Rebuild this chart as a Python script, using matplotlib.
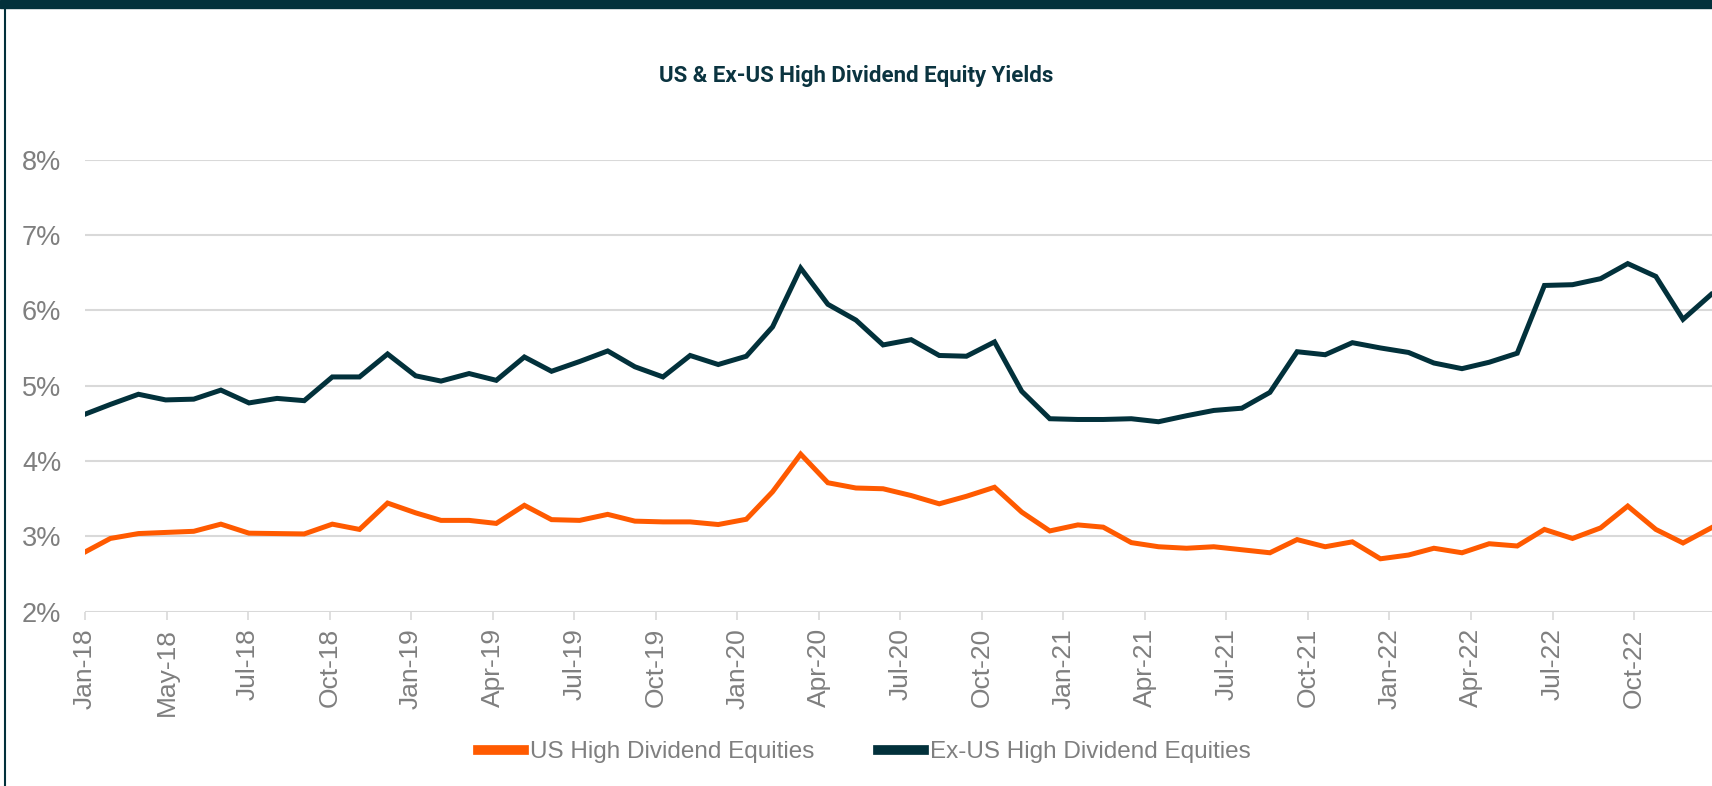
import numpy as np
import pandas as pd
import matplotlib
matplotlib.use("Agg")
import matplotlib.pyplot as plt
import matplotlib.dates as mdates
from matplotlib.lines import Line2D
from matplotlib.patches import Rectangle

# month-end yields (%), Jan-18 .. Dec-22
us_yield = [2.79, 2.97, 3.035, 3.05, 3.065, 3.16, 3.04, 3.035, 3.03, 3.16,
            3.09, 3.44, 3.31, 3.21, 3.21, 3.17, 3.41, 3.22, 3.21, 3.29,
            3.20, 3.19, 3.19, 3.155, 3.225, 3.59, 4.09, 3.71, 3.64, 3.63,
            3.54, 3.43, 3.53, 3.65, 3.32, 3.07, 3.15, 3.12, 2.915, 2.86,
            2.84, 2.86, 2.82, 2.78, 2.955, 2.86, 2.925, 2.70, 2.75, 2.84,
            2.78, 2.90, 2.87, 3.09, 2.97, 3.11, 3.40, 3.09, 2.91, 3.11]
exus_yield = [4.62, 4.75, 4.885, 4.81, 4.82, 4.94, 4.77, 4.83, 4.80, 5.115,
              5.115, 5.42, 5.13, 5.06, 5.16, 5.07, 5.38, 5.19, 5.32, 5.46,
              5.25, 5.115, 5.40, 5.28, 5.39, 5.78, 6.56, 6.08, 5.87, 5.54,
              5.61, 5.40, 5.39, 5.58, 4.925, 4.56, 4.55, 4.55, 4.56, 4.52,
              4.60, 4.67, 4.70, 4.91, 5.45, 5.41, 5.57, 5.50, 5.44, 5.30,
              5.225, 5.31, 5.43, 6.33, 6.34, 6.42, 6.62, 6.45, 5.88, 6.21]
dates = pd.date_range("2018-01-31", periods=len(us_yield), freq="ME")
tick_dates = pd.date_range("2018-01-31", periods=20, freq="90D")
y_ticks = [2, 3, 4, 5, 6, 7, 8]

series_names = ["US High Dividend Equities", "Ex-US High Dividend Equities"]
title = "US & Ex-US High Dividend Equity Yields"

ORANGE = "#ff5a00"
DARK = "#02313b"
GREY = "#7f7f7f"

plt.rcParams["font.family"] = ["Liberation Sans", "DejaVu Sans"]

fig = plt.figure(figsize=(17.12, 7.86), dpi=100)
ax = fig.add_axes([85 / 1712, 174.5 / 786, 1 - 85 / 1712, 451.8 / 786])

ax.plot(dates, us_yield, color=ORANGE, lw=3.6, solid_joinstyle="miter",
        label=series_names[0], zorder=3)
ax.plot(dates, exus_yield, color=DARK, lw=3.6, solid_joinstyle="miter",
        label=series_names[1], zorder=3)

ax.set_ylim(2, 8)
ax.set_yticks(y_ticks)
ax.set_yticklabels([f"{v}%" for v in y_ticks])
ax.set_xlim(dates[0], pd.Timestamp("2023-01-01"))
ax.set_xticks(tick_dates)
ax.xaxis.set_major_formatter(mdates.DateFormatter("%b-%y"))

ax.grid(axis="y", color="#d9d9d9", lw=1.5, zorder=0)
for s in ax.spines.values():
    s.set_visible(False)
ax.tick_params(axis="y", length=0, pad=17, labelsize=19.5, labelcolor=GREY)
ax.tick_params(axis="x", length=6, width=1.2, color="#d9d9d9", pad=6,
               labelsize=19, labelcolor=GREY, labelrotation=90)

# frame pieces
fig.add_artist(Rectangle((0, 1 - 8 / 786), 1, 8 / 786, transform=fig.transFigure,
                         color=DARK, zorder=10))
fig.add_artist(Line2D([4.5 / 1712, 4.5 / 1712], [0, 1], transform=fig.transFigure,
                      color=DARK, lw=1.5))

fig.text(0.5, 1 - 76 / 786, title, ha="center", va="center", fontsize=16,
         fontweight="bold", color="#0b3440",
         family=["Roboto", "DejaVu Sans"])

leg = fig.legend(loc="center", bbox_to_anchor=(0.505, 1 - 752 / 786), ncol=2,
                 frameon=False, handlelength=1.9, handletextpad=0.25,
                 columnspacing=2.6,
                 prop={"family": ["Liberation Sans"], "size": 17.5})
for t in leg.get_texts():
    t.set_color(GREY)
for h in leg.legend_handles:
    h.set_linewidth(7)

fig.savefig("out.png", dpi=100)
